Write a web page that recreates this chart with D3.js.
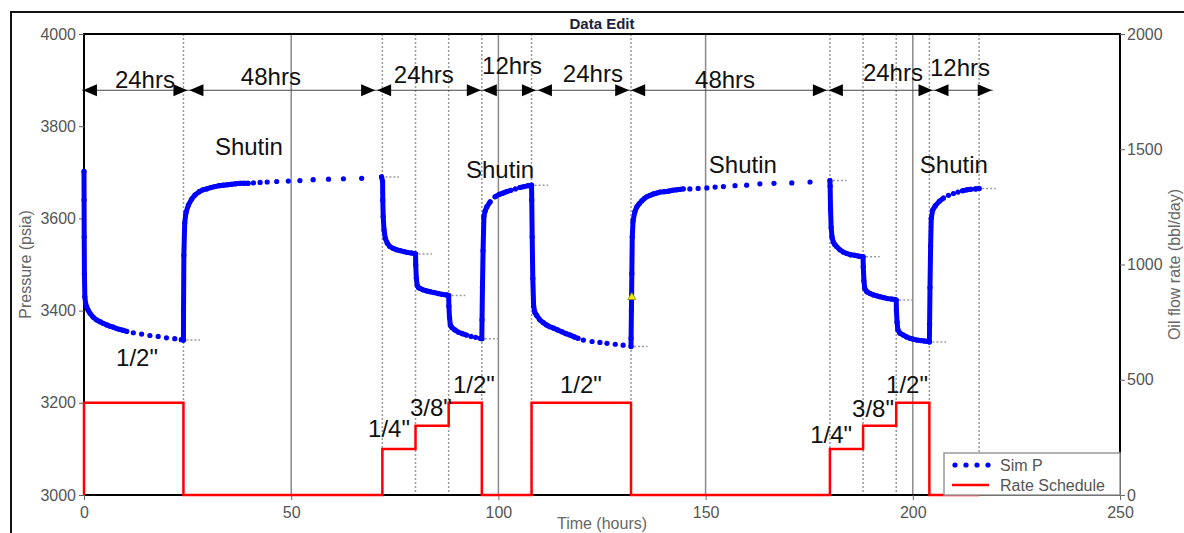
<!DOCTYPE html>
<html>
<head>
<meta charset="utf-8">
<script src="https://cdn.jsdelivr.net/npm/d3@7"></script>
<style>
  body { margin: 0; background: #fff; }
  svg { display: block; font-family: "Liberation Sans", Arial, sans-serif; }
  .tick text { fill: #555; }
  .tick line { stroke: #666; }
  .note { fill: #111; font-size: 24px; text-anchor: middle; }
</style>
</head>
<body>
<svg id="chart" width="1184" height="533"></svg>
<script>
// ---- data ----
const xTicks = [0, 50, 100, 150, 200, 250];
const pressureTicks = [3000, 3200, 3400, 3600, 3800, 4000];
const rateTicks = [0, 500, 1000, 1500, 2000];
const gridTimes = [50, 100, 150, 200];

// flow periods (hours) and the rate schedule (bbl/day)
const periodEnds = [24, 72, 80, 88, 96, 108, 132, 180, 188, 196, 204, 216];
const rateTimes = [0, 0, 24, 72, 80, 88, 96, 108, 132, 180, 188, 196, 204, 216];
const rateValues = [0, 400, 0, 200, 300, 400, 0, 400, 0, 200, 300, 400, 0, 0];

// simulated pressure [hours, psia]
const simP = [
  // 0-24 drawdown 1/2"
  [0, 3702], [0.02, 3640], [0.05, 3560], [0.1, 3480], [0.2, 3430], [0.4, 3415], [0.65, 3408],
  [1.0, 3401], [1.45, 3394], [2.2, 3386], [3.0, 3380], [3.86, 3376], [4.7, 3372], [5.5, 3369],
  [6.3, 3366], [7.07, 3364], [7.9, 3361], [8.7, 3359], [9.5, 3357], [10.3, 3355], [11.9, 3352],
  [13.9, 3349], [15.9, 3346], [17.9, 3344], [19.9, 3341], [21.9, 3339], [23.5, 3337], [24, 3336],
  // 24-72 shutin
  [24.02, 3400], [24.1, 3520], [24.3, 3590], [24.6, 3612], [25.2, 3629], [26.0, 3642], [26.8, 3651],
  [27.8, 3658], [28.7, 3662], [29.6, 3664], [30.6, 3667], [31.6, 3669], [32.6, 3671], [33.6, 3672],
  [34.6, 3673], [35.6, 3674], [36.6, 3675], [37.6, 3676], [38.6, 3676], [39.6, 3676], [40.9, 3677],
  [42.5, 3678], [44.2, 3679], [46.5, 3680], [49.3, 3681], [52.1, 3682], [55.3, 3684], [59.0, 3685],
  [62.6, 3686], [67.0, 3687], [71.8, 3690],
  // 72-80 1/4"
  [72.05, 3680], [72.1, 3640], [72.2, 3604], [72.4, 3575], [72.7, 3557], [73.2, 3546], [73.8, 3539],
  [74.6, 3535], [75.4, 3532], [76.3, 3530], [77.2, 3528], [78.1, 3526], [79, 3525], [80, 3523],
  // 80-88 3/8"
  [80.05, 3500], [80.2, 3470], [80.4, 3455], [80.7, 3450], [81.1, 3448], [81.8, 3445], [82.6, 3443],
  [83.5, 3441], [84.5, 3439], [85.5, 3437], [86.5, 3435], [87.5, 3434], [88, 3433],
  // 88-96 1/2"
  [88.05, 3410], [88.2, 3385], [88.4, 3369], [88.8, 3363], [89.5, 3358], [90.4, 3353], [91.3, 3350],
  [92.3, 3347], [93.4, 3344], [94.5, 3342], [95.6, 3340], [96, 3339],
  // 96-108 shutin
  [96.05, 3380], [96.15, 3450], [96.3, 3530], [96.5, 3604], [96.8, 3616], [97.2, 3625], [98, 3636],
  [99.2, 3647], [100.2, 3652], [101.1, 3655], [102, 3658], [103, 3661], [104.1, 3664], [105.2, 3667],
  [106.2, 3669], [107.2, 3671], [108, 3672],
  // 108-132 1/2"
  [108.05, 3640], [108.15, 3560], [108.3, 3470], [108.5, 3410], [108.8, 3396], [109.2, 3390],
  [110, 3380], [110.8, 3374], [111.6, 3369], [112.4, 3365], [113.3, 3362], [114.3, 3358],
  [115.3, 3354], [116.3, 3350], [117.3, 3347], [118.3, 3343], [119.2, 3340], [120.5, 3336],
  [122.6, 3333], [124.5, 3331], [126.2, 3329], [128.2, 3327], [130.1, 3325], [132, 3322],
  // 132-180 shutin
  [132.02, 3340], [132.1, 3400], [132.2, 3480], [132.3, 3560], [132.5, 3595], [132.95, 3615],
  [133.4, 3625], [134, 3632], [134.6, 3638], [135.2, 3643], [135.8, 3647], [136.6, 3650],
  [137.4, 3653], [138.2, 3655], [139, 3657], [140, 3658], [141, 3659], [142, 3661], [143, 3662],
  [143.8, 3663], [144.6, 3664], [146.2, 3664], [148.2, 3665], [150.3, 3666], [152.3, 3668],
  [154.3, 3669], [157.1, 3671], [159.9, 3672], [163.1, 3675], [166.5, 3676], [170.8, 3677],
  [175.2, 3679], [180, 3682],
  // 180-188 1/4"
  [180.05, 3670], [180.15, 3620], [180.3, 3580], [180.5, 3560], [180.8, 3549], [181.2, 3543],
  [181.6, 3539], [182.4, 3532], [183.2, 3527], [184, 3524], [185, 3521], [186, 3520], [187, 3518],
  [188, 3517],
  // 188-196 3/8"
  [188.05, 3495], [188.2, 3465], [188.4, 3448], [188.9, 3441], [189.7, 3437], [190.5, 3434],
  [191.3, 3432], [192.1, 3430], [193, 3428], [193.9, 3426], [194.8, 3425], [195.7, 3424], [196, 3423],
  // 196-204 1/2"
  [196.05, 3400], [196.2, 3375], [196.4, 3358], [196.9, 3351], [197.7, 3347], [198.5, 3343],
  [199.3, 3340], [200.1, 3338], [201, 3336], [201.9, 3335], [202.8, 3334], [203.7, 3333], [204, 3332],
  // 204-216 shutin
  [204.05, 3370], [204.15, 3450], [204.3, 3540], [204.45, 3600], [204.8, 3618], [205.4, 3627],
  [206.4, 3637], [207.4, 3644], [208.6, 3650], [209.8, 3654], [210.9, 3657], [212, 3660],
  [213, 3662], [214, 3663], [215.1, 3664], [216, 3665]
];
const cursorPoint = [132.2, 3429];

// annotations, in axis units (hours, psia)
const arrowStops = [-0.5, 25.2, 70.5, 96, 109.3, 131.8, 179.5, 205, 219.3];
const arrowLevel = 3878;
const durationText = ["24hrs", "48hrs", "24hrs", "12hrs", "24hrs", "48hrs", "24hrs", "12hrs"];
const durationAt = [[14.7, 3883], [45.1, 3889], [82.0, 3894], [103.3, 3913], [122.8, 3896], [154.7, 3883], [195.2, 3898], [211.4, 3909]];
const shutinAt = [[39.8, 3738], [100.4, 3688], [159.0, 3698], [209.9, 3698]];
const chokeText = ['1/2"', '1/4"', '3/8"', '1/2"', '1/2"', '1/4"', '3/8"', '1/2"'];
const chokeAt = [[12.8, 3279], [73.6, 3126], [83.7, 3171], [94.1, 3221], [119.9, 3221], [180.3, 3113], [190.4, 3169], [198.6, 3221]];

// ---- layout ----
const W = 1184, H = 533;
const margin = { top: 34, right: 64, bottom: 38, left: 84 };
const svg = d3.select("#chart");

const x = d3.scaleLinear().domain([0, 250]).range([margin.left, W - margin.right]);
const yP = d3.scaleLinear().domain([3000, 4000]).range([H - margin.bottom, margin.top]);
const yQ = d3.scaleLinear().domain([0, 2000]).range([H - margin.bottom, margin.top]);
const plotTop = margin.top, plotBottom = H - margin.bottom;
const plotLeft = margin.left, plotRight = W - margin.right;

// outer window frame
svg.append("path").attr("d", `M11,${H}V12H${W}`).attr("fill", "none").attr("stroke", "#111").attr("stroke-width", 2);

svg.append("text").attr("x", (plotLeft + plotRight) / 2).attr("y", 29).attr("text-anchor", "middle")
  .attr("font-size", 15).attr("font-weight", "bold").attr("fill", "#1e1e3a").text("Data Edit");

// grid + period lines
svg.append("g").selectAll("line").data(gridTimes).join("line")
  .attr("x1", d => x(d)).attr("x2", d => x(d)).attr("y1", plotTop).attr("y2", plotBottom)
  .attr("stroke", "#8a8a8a").attr("stroke-width", 1.5);
svg.append("g").selectAll("line").data(periodEnds).join("line")
  .attr("x1", d => x(d)).attr("x2", d => x(d)).attr("y1", plotTop).attr("y2", plotBottom)
  .attr("stroke", "#999").attr("stroke-width", 1.5).attr("stroke-dasharray", "2,2");

svg.append("rect").attr("x", plotLeft).attr("y", plotTop)
  .attr("width", plotRight - plotLeft).attr("height", plotBottom - plotTop)
  .attr("fill", "none").attr("stroke", "#000").attr("stroke-width", 2);

// axes
const styleAxis = g => {
  g.attr("font-size", 16).attr("font-family", null);
  g.select(".domain").remove();
};
svg.append("g").attr("transform", `translate(${plotLeft},0)`)
  .call(d3.axisLeft(yP).tickValues(pressureTicks).tickSize(5).tickPadding(3).tickFormat(d3.format("d")))
  .call(styleAxis);
svg.append("g").attr("transform", `translate(${plotRight},0)`)
  .call(d3.axisRight(yQ).tickValues(rateTicks).tickSize(5).tickPadding(2).tickFormat(d3.format("d")))
  .call(styleAxis);
svg.append("g").attr("transform", `translate(0,${plotBottom})`)
  .call(d3.axisBottom(x).tickValues(xTicks).tickSize(5).tickPadding(7).tickFormat(d3.format("d")))
  .call(styleAxis);

svg.append("text").attr("transform", `translate(25,${(plotTop + plotBottom) / 2}) rotate(-90)`)
  .attr("text-anchor", "middle").attr("dy", "0.35em").attr("font-size", 16).attr("fill", "#666").text("Pressure (psia)");
svg.append("text").attr("transform", `translate(1174,${(plotTop + plotBottom) / 2}) rotate(-90)`)
  .attr("text-anchor", "middle").attr("dy", "0.35em").attr("font-size", 16).attr("fill", "#666").text("Oil flow rate (bbl/day)");
svg.append("text").attr("x", (plotLeft + plotRight) / 2).attr("y", 529).attr("text-anchor", "middle")
  .attr("font-size", 16).attr("fill", "#666").text("Time (hours)");

// rate schedule
const rateData = rateTimes.map((t, i) => [t, rateValues[i]]);
svg.append("path").datum(rateData)
  .attr("d", d3.line().x(d => x(d[0])).y(d => yQ(d[1])).curve(d3.curveStepAfter))
  .attr("fill", "none").attr("stroke", "#ff0000").attr("stroke-width", 2.5);

// end-of-period stubs
const stubs = periodEnds.map(t => {
  const last = simP.filter(d => d[0] <= t + 0.01).pop();
  return [t, last[1]];
});
svg.append("g").selectAll("line").data(stubs).join("line")
  .attr("x1", d => x(d[0]) + 3).attr("x2", d => x(d[0] + 4))
  .attr("y1", d => yP(d[1])).attr("y2", d => yP(d[1]))
  .attr("stroke", "#9a9a9a").attr("stroke-width", 1.5).attr("stroke-dasharray", "2,2");

// sim pressure: closely spaced samples merge into a solid band
const runs = [];
let run = [simP[0]];
for (let i = 1; i < simP.length; i++) {
  if (simP[i][0] - simP[i - 1][0] <= 1.05) run.push(simP[i]);
  else { runs.push(run); run = [simP[i]]; }
}
runs.push(run);
const pLine = d3.line().x(d => x(d[0])).y(d => yP(d[1]));
svg.append("g").selectAll("path").data(runs.filter(r => r.length > 1)).join("path")
  .attr("d", pLine).attr("fill", "none").attr("stroke", "#0000ff")
  .attr("stroke-width", 5).attr("stroke-linejoin", "round").attr("stroke-linecap", "round");
svg.append("g").selectAll("circle").data(simP).join("circle")
  .attr("cx", d => x(d[0])).attr("cy", d => yP(d[1])).attr("r", 2.6).attr("fill", "#0000ff");

svg.append("path").attr("transform", `translate(${x(cursorPoint[0])},${yP(cursorPoint[1])})`)
  .attr("d", d3.symbol(d3.symbolTriangle, 28)).attr("fill", "#eeee00").attr("stroke", "#8a8a10").attr("stroke-width", 0.8);

// duration arrows
const ay = yP(arrowLevel);
svg.append("line").attr("x1", x(arrowStops[0])).attr("x2", x(arrowStops[arrowStops.length - 1]))
  .attr("y1", ay).attr("y2", ay).attr("stroke", "#444").attr("stroke-width", 1.2);
const heads = [];
arrowStops.forEach((t, i) => {
  if (i < arrowStops.length - 1) heads.push({ tip: x(t) + 1, dir: 1 });
  if (i > 0) heads.push({ tip: x(t) - 1, dir: -1 });
});
svg.append("g").selectAll("path").data(heads).join("path")
  .attr("d", d => `M${d.tip},${ay}L${d.tip + d.dir * 14},${ay - 6}L${d.tip + d.dir * 14},${ay + 6}Z`)
  .attr("fill", "#000");

svg.append("g").selectAll("text").data(durationText).join("text").attr("class", "note")
  .attr("x", (d, i) => x(durationAt[i][0])).attr("y", (d, i) => yP(durationAt[i][1])).text(d => d);
svg.append("g").selectAll("text").data(shutinAt).join("text").attr("class", "note")
  .attr("x", d => x(d[0])).attr("y", d => yP(d[1])).text("Shutin");
svg.append("g").selectAll("text").data(chokeText).join("text").attr("class", "note")
  .attr("x", (d, i) => x(chokeAt[i][0])).attr("y", (d, i) => yP(chokeAt[i][1])).text(d => d);

// legend
const lg = svg.append("g").attr("transform", `translate(944,453)`);
lg.append("rect").attr("width", plotRight - 944).attr("height", plotBottom - 453)
  .attr("fill", "#fff").attr("stroke", "#999").attr("stroke-width", 1.5);
lg.selectAll("circle").data([0, 1, 2, 3]).join("circle")
  .attr("cx", d => 11 + d * 11).attr("cy", 12).attr("r", 2.6).attr("fill", "#0000ff");
lg.append("line").attr("x1", 8).attr("x2", 45).attr("y1", 32).attr("y2", 32)
  .attr("stroke", "#ff0000").attr("stroke-width", 2.5);
lg.append("text").attr("x", 56).attr("y", 18).attr("font-size", 16).attr("fill", "#555").text("Sim P");
lg.append("text").attr("x", 56).attr("y", 38).attr("font-size", 16).attr("fill", "#555").text("Rate Schedule");
</script>
</body>
</html>
